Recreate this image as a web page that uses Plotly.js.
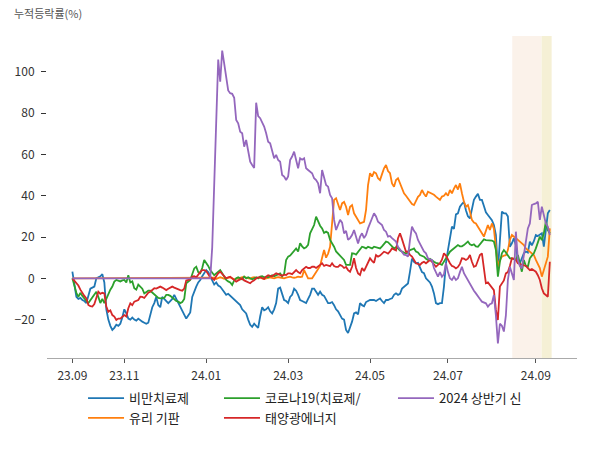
<!DOCTYPE html>
<html>
<head>
<meta charset="utf-8">
<script src="https://cdn.plot.ly/plotly-3.0.1.min.js"></script>
<style>html,body{margin:0;padding:0;background:#fff;}#chart{width:600px;height:450px;}</style>
</head>
<body>
<div id="chart"></div>
<script>
// Tick labels (months) at trading-day index positions
const tickIndex = [0, 26, 67, 108, 149, 188, 232];
const tickLabels = ['23.09', '23.11', '24.01', '24.03', '24.05', '24.07', '24.09'];

const seriesNames = ['비만치료제', '유리 기판', '코로나19(치료제/', '태양광에너지', '2024 상반기 신'];

const obesity = [
3.2,-2,-9,-10,-9.5,-10.5,-11,-12,-8,-5,
-4.5,-4,0,0.5,1,2,-2,-15,-20,-23,
-25,-24,-22.5,-23,-22,-19,-15,-17,-19.5,-20,
-19,-20,-20.5,-19.5,-20.5,-21,-21.5,-22,-21.5,-17,
-14,-12,-9,-13,-14,-9,-10,-11,-12,-11,
-10,-8,-10,-12,-14,-15.5,-18,-19.5,-18,-16.5,
-9,-6,-4,-2,-0.8,1,2.4,4,3,1,
-1,-3,-2,-3.5,-4,-5.5,-6.5,-8,-7.5,-8.5,
-9,-10,-11.5,-12,-13,-15,-16,-17,-20,-22.5,
-23.5,-22,-23,-24,-18.5,-14,-15.5,-15,-14,-16,
-17,-15,-12,-5,-4.5,-7,-10.5,-11,-12,-9,
-8,-5,-6,-8,-10.5,-11,-11.5,-12,-10,-8,
-5,-5,-6.5,-8,-6.5,-8,-8.5,-10,-12,-12,
-11.5,-13,-15,-16,-17.5,-19.5,-20,-25,-26.5,-24,
-21,-17,-16.5,-17.5,-12,-13,-13.5,-11.5,-11,-10.5,
-10.5,-10.5,-11,-10.5,-9.7,-11,-12,-10.5,-10.5,-10,
-9.7,-8,-7.3,-8,-7.5,-5,-4,-3,-2.5,3.2,
9.6,8,7.3,7.5,5,3,2.5,0,-1,-2,
-4,-7.3,-12,-12.5,-12,-12,-4,7.3,13.7,18.5,
25,24,31,31.5,34.7,36,37.1,33,30,29,
34,38,39.6,40.9,38,38,35,32,30.7,29.5,
28.2,25.8,21,4,20,32.3,31.5,31.5,30,15.3,
17,19.4,16,8.9,7.3,10,12.1,13,12.5,17.8,
16,18,21,20.5,21,21.8,15.3,24.2,31.5,33.1
];

const glassSubstrate = [
0,0,0,0,0,0,0,0,0,0,
0,0,0,0,0,0,0,0,0,0,
0,0,0,0,0,0,0,0,0,0,
0,0,0,0,0,0,0,0,0,0,
0,0,0,0,0,0,0,0,0,0,
0,0,0,0,0,0,0,0,0,0,
0,0,0,0,0,0,0,0,0,0,
0,0.3,-0.3,0,0.5,0.2,-0.2,0,0.3,0.5,
0,-0.5,-0.3,0,0.2,0.5,0.8,0.3,0,-0.2,
0.3,0.5,0,0.2,0.4,0,-0.3,0,0.3,0.5,
0.2,0,0.3,0.6,0.4,0.2,0,0.3,0.5,0.8,
0.5,0.3,0.5,0.8,0.6,0.8,4,1.5,0,0,
0,1.5,3,4,6,10,13.7,10,12,15.3,
25,38,38.8,35.5,33.1,36.3,37,34.7,30.7,34.7,
35.5,31.5,30,28.3,26.6,27,27.4,33.1,45.2,50.9,
49.3,51.5,50.9,48.5,47.6,50.5,53.3,54.9,52,50.9,
46,44.4,47.6,48.5,46,42.8,41.2,40,38.8,37.1,
36,35.5,38,39.5,40.4,42.8,41,39.6,42,41.5,
41.2,40.5,39.6,38.8,38,39.6,40,41.2,40,42.8,
41.2,43.5,45.2,43,46,41.2,37.1,34.7,35.5,32.3,
28.3,27,26.6,25,23,21.8,20.2,22.6,25.8,23.4,
26.6,24,14.5,5.6,8.9,10.5,11,11.2,13.7,18.6,
21,20,19.4,18.6,17.8,16.9,16.1,14.5,13.7,12.9,
12,11.3,8.9,6.5,5,0.8,4,7.3,10.5,24.2
];

const covid = [
0,-3.5,-7,-9,-7,-8.5,-10,-11,-12,-10.5,
-9,-8,-6.5,-9,-12,-10,-12,-10,-7.3,-5.5,
-4,-1.6,-0.8,-1,-1.5,-1,-0.8,-2,1.5,-2,
-1.5,-4.8,-5.5,-3,-4,-5,-7.3,-6.5,-6,-6,
-7,-7.5,-8.9,-9.5,-9.7,-9.7,-9.5,-8,-8,-8.5,
-9.5,-10.5,-11,-11.3,-12,-11.5,-10,-2.4,-1.5,-0.8,
2,4.8,5.6,3,2.5,5,8.9,7.5,6,4,
2.5,1.5,2.4,3,4,2.5,1,-0.8,-1.5,-2,
-3.2,-1,0,0.5,0,-0.5,0.8,0,0.5,0,
-0.5,0,0.5,0,0.8,1,0.5,0.8,0.5,1,
1.5,1,1.5,2,2.4,1,2,8.9,10.5,11,
12.1,13,14.5,13,17,15.5,14.5,15,16.2,21.8,
24,25.8,29.9,27.5,25.5,24.2,22,22.6,22,18.6,
17,15.3,13,12,10.5,9.5,8.9,6.5,6.5,6.5,
12.1,12,11.5,12.9,14,15.3,15,14.5,15.3,15,
14.5,15.3,15,14.5,14.5,15.5,16.9,17.8,17.5,16.5,
15.5,14.5,15,14.5,13.5,13,12.1,12,12.5,13.7,
14,14.5,13,12.5,11.3,11,10.5,9.5,8.9,9.5,
8.5,8,7.5,7.3,7,6.5,8,10,11.3,12.9,
13.7,14.5,15.3,16.1,15.5,15.5,16.1,17,17.8,16.5,
16,16.5,15.5,15.3,16.5,17.8,18.9,18.5,18.5,18.5,
18.3,17.8,13.7,0.8,8,12.1,13.7,12.5,11,9.7,
9.7,9.5,9,11.3,7.3,3.2,8.9,6,5.6,9.7,
11,12.1,14.5,16.9,20.2,18.5,21.8,27.4,23.4,21.8
];

const solar = [
0,-1,-2,-3.5,-5.5,-7.3,-8.5,-9.7,-12.9,-13.5,
-13.7,-12.5,-8.9,-6.5,-7.5,-7,-7.3,-13.7,-16.2,-15.5,
-17.8,-18.5,-20.2,-19.5,-19.5,-18.5,-17.8,-18.5,-14.5,-12.1,
-13,-11.3,-11,-10.5,-8.9,-9,-9.5,-8,-7,-6.5,
-5.5,-4.8,-5,-4.5,-4,-4.5,-5,-5.7,-5,-4.5,
-4,-4.5,-5,-5.5,-5.7,-6,-5,-1,-0.8,-0.5,
0.8,1,0.5,2,3,4,4,3.5,2,0.5,
0,-0.8,1,2.5,3.2,2,1,0,0.5,0.8,
0,-0.8,-1.6,-1,-0.5,0,-1,-1.5,-2,-2.4,
-1.5,-1,0,0.5,0.5,0,-0.3,0.8,1.5,1.2,
1,1.8,2.4,2,1.5,1.2,1.8,1.6,2.4,2.4,
2,3,4,3,2.4,4,4.8,5.6,5,5,
5.6,5.6,5,5.6,6.5,7.3,6,6.5,6,5.9,
7.3,6,5.5,5.5,6.5,6,5,5.5,4,3.2,
5.6,9.7,5,2.4,1.6,5,3.5,5.6,7.5,9.7,
8.5,7.5,11.3,10.5,11,12.1,12.9,12.5,12,13,
14.5,14,13.5,19.4,21.8,19,16,12.9,13,11.3,
10.5,8.9,7.3,7,6.5,7.5,8,7.3,8,8.9,
8,7,5.6,6.5,7.3,9,12.1,11,9,7.3,
6,5.6,4.8,5.5,7,9.7,9.5,8.9,9.5,11.3,
8,5.6,6,9,11.3,12.1,4,-2.4,-2,-3.2,
-4.5,-5.7,-15.3,-20.2,-4,-2.4,-1,2.4,3,6,
9.7,9.5,8.9,7.3,7,6.5,6.5,6,5,4,
4.5,3.8,3.2,1.5,-0.8,-4.8,-7.3,-8.1,-8.9,8
];

const newListing2024 = [
0,0,0,0,0,0,0,0,0,0,
0,0,0,0,0,0,0,0,0,0,
0,0,0,0,0,0,0,0,0,0,
0,0,0,0,0,0,0,0,0,0,
0,0,0,0,0,0,0,0,0,0,
0,0,0,0,0,0,0,0,0,0,
0,0,0,0,0,0,0,0,0,0,
15,48,80,106,95.3,110.3,104,98,91,89.7,
89.4,87.5,76.7,75.1,71,70.3,63.8,67,62.2,56.5,
54.9,53.5,85.1,78.6,77.6,75.5,73.5,70.3,66.2,65.4,
61,58.2,59.8,57.3,56.5,50.1,49.3,47.6,49.3,57.3,
59,61.4,57.3,53.3,58.2,57.5,58.2,53.3,52.5,51.5,
50.9,48.5,47.6,46,41.2,52.5,49.3,45.2,44.4,40.4,
38.8,28.3,23.4,26,28.3,27,21.8,23,18.6,19.5,
21,23.4,19.5,16.9,20.2,21.8,19.5,21,24.2,27,
29.1,31.5,30,27.4,26.5,25.8,23.4,22.6,20.2,20.5,
19.5,18.5,17.8,15.3,14,12.9,11.5,11.3,10.5,18.6,
25,23,21.8,18.6,16.5,14.5,13,12.1,9.7,9.2,
8.9,5,3.2,0.8,3,0.8,2,7.3,3,0,
-0.8,0.8,-0.8,0,3,5.6,2.5,0.8,-1,-2.4,
-4.8,-6,-7.3,-8.9,-10,-11.3,-11.8,-12.1,-13.7,-12.5,
-12.1,-8.1,-18,-31.5,-22,-23,-25.8,-18,-0.8,5.6,
2.4,-0.8,22.6,8.9,6,4.8,11.3,16.9,24.2,26.6,
35.5,36,36.3,37.1,28.3,34.7,30.7,26.6,25,21
];

// shaded periods (trading-day index)
const shadeStart = [220.2, 234.9];
const shadeEnd = [234.9, 239.9];
const shadeColors = ['#fbf2ea', '#f5f0d5'];

const colors = ['#1f77b4', '#ff7f0e', '#2ca02c', '#d62728', '#9467bd'];
const legendIds = ['legend', 'legend', 'legend2', 'legend2', 'legend3'];
const allSeries = [obesity, glassSubstrate, covid, solar, newListing2024];

const FONT = '"Noto Sans CJK KR", "Noto Sans", sans-serif';

const traces = allSeries.map((vals, k) => ({
  type: 'scatter',
  mode: 'lines',
  name: seriesNames[k],
  x: vals.map((_, i) => i),
  y: vals,
  line: { color: colors[k], width: 1.8 },
  legend: legendIds[k],
  hoverinfo: 'skip'
}));

const shapes = shadeStart.map((s, k) => ({
  type: 'rect', xref: 'x', yref: 'paper',
  x0: s, x1: shadeEnd[k], y0: 0, y1: 1,
  fillcolor: shadeColors[k], line: { width: 0 }, layer: 'below'
}));

const legendBase = {
  orientation: 'v', yanchor: 'top', xanchor: 'left', y: -0.078,
  bgcolor: 'rgba(0,0,0,0)', borderwidth: 0,
  font: { family: FONT, size: 13, color: '#222' },
  tracegroupgap: 0, itemwidth: 36
};

const layout = {
  width: 600, height: 450,
  margin: { l: 47, r: 23, t: 36, b: 92 },
  paper_bgcolor: '#ffffff', plot_bgcolor: '#ffffff',
  font: { family: FONT, size: 12, color: '#333' },
  showlegend: true,
  legend: Object.assign({}, legendBase, { x: 0.068 }),
  legend2: Object.assign({}, legendBase, { x: 0.3245 }),
  legend3: Object.assign({}, legendBase, { x: 0.6528 }),
  xaxis: {
    range: [-12.7, 252.6],
    tickvals: tickIndex, ticktext: tickLabels,
    showgrid: false, zeroline: false,
    showline: true, linecolor: '#aaaaaa', linewidth: 1,
    ticks: 'outside', ticklen: 4, tickcolor: '#555', tickwidth: 1,
    ticklabelstandoff: 3,
    tickfont: { family: FONT, size: 12, color: '#333' }
  },
  yaxis: {
    range: [-38.6, 117.4],
    tickvals: [-20, 0, 20, 40, 60, 80, 100],
    showgrid: false, zeroline: false, showline: false,
    ticks: 'outside', ticklen: 5, tickcolor: '#333', tickwidth: 1,
    ticklabelstandoff: 4,
    tickfont: { family: FONT, size: 12, color: '#333' }
  },
  shapes: shapes,
  annotations: [{
    text: '누적등락률(%)', xref: 'paper', yref: 'paper',
    x: -0.066, y: 1.071, xanchor: 'left', yanchor: 'middle',
    showarrow: false, font: { family: FONT, size: 11, color: '#555' }
  }]
};

Plotly.newPlot('chart', traces, layout, { displayModeBar: false, staticPlot: true });
</script>
</body>
</html>
